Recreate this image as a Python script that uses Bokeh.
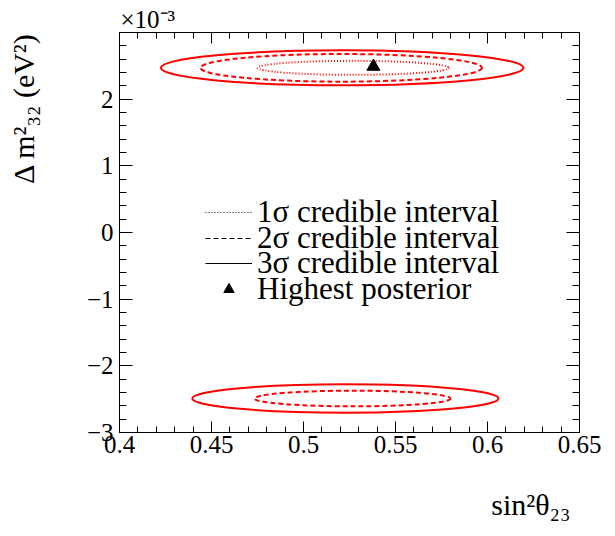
from bokeh.plotting import figure
from bokeh.models import Range1d, FixedTicker, LinearAxis, Title, Legend, LegendItem
from bokeh.embed import file_html
from bokeh.resources import INLINE

# ---------------- data (Δm²32 in units of 1e-3 eV²) ----------------
# upper island: 1σ, 2σ, 3σ credible contours
upper_level = ["1sigma", "2sigma", "3sigma"]
upper_x_center = [0.527, 0.5205, 0.521]
upper_y_center = [2.47, 2.47, 2.47]
upper_x_width = [0.104, 0.153, 0.197]
upper_y_height = [0.21, 0.415, 0.525]

# lower island: 2σ, 3σ credible contours
lower_level = ["2sigma", "3sigma"]
lower_x_center = [0.5267, 0.5228]
lower_y_center = [-2.49, -2.49]
lower_x_width = [0.1065, 0.1665]
lower_y_height = [0.235, 0.425]

# highest posterior point
best_x = [0.538]
best_y = [2.49]

x_ticks = [0.4, 0.45, 0.5, 0.55, 0.6, 0.65]
x_tick_labels = ["0.4", "0.45", "0.5", "0.55", "0.6", "0.65"]
y_ticks = [-3, -2, -1, 0, 1, 2, 3]
y_tick_labels = ["\u22123", "\u22122", "\u22121", "0", "1", "2", ""]

legend_labels = ["1\u03c3 credible interval", "2\u03c3 credible interval",
                 "3\u03c3 credible interval", "Highest posterior"]

x_title = "sin\u00b2\u03b8\u2082\u2083"
y_title = "\u0394 m\u00b2\u2083\u2082 (eV\u00b2)"
y_multiplier = "\u00d710\u207b\u00b3"

# ---------------- styles ----------------
FONT = "Liberation Serif"
X0, X1 = 0.4, 0.65
Y0, Y1 = -3.0, 3.0
W, H = 615, 536
FL, FR, FT, FB = 119, 579, 32, 432  # frame edges in canvas px

level_style = {
    "1sigma": dict(line_dash="1 2", line_width=2),
    "2sigma": dict(line_dash="5 3", line_width=2),
    "3sigma": dict(line_dash="solid", line_width=2),
}

p = figure(width=W, height=H, x_range=Range1d(X0, X1), y_range=Range1d(Y0, Y1),
           output_backend="svg", toolbar_location=None,
           min_border_left=FL, min_border_right=W - FR,
           min_border_top=FT, min_border_bottom=H - FB)
p.xgrid.visible = False
p.ygrid.visible = False
p.outline_line_color = "black"
p.outline_line_width = 1
p.background_fill_color = "white"
p.border_fill_color = "white"

x_minor = [round(X0 + 0.01 * i, 2) for i in range(26)]
y_minor = [round(Y0 + 0.2 * i, 1) for i in range(31)]


def style_axis(ax, ticks, minor, labels, tin, minin, show):
    ax.ticker = FixedTicker(ticks=ticks, minor_ticks=minor)
    ax.major_tick_in = tin
    ax.major_tick_out = 0
    ax.minor_tick_in = minin
    ax.minor_tick_out = 0
    ax.axis_line_color = "black"
    ax.major_tick_line_color = "black"
    ax.minor_tick_line_color = "black"
    if show:
        ax.major_label_overrides = dict(zip(ticks, labels))
        ax.major_label_text_font = FONT
        ax.major_label_text_font_size = "25px"
        ax.major_label_text_color = "black"
    else:
        ax.major_label_text_font_size = "0px"
        ax.major_label_text_alpha = 0
        ax.major_label_standoff = 0


def reserve_gap(ax, gap):
    # a blank, tiny axis label that only reserves room between tick labels and the title
    ax.axis_label = " "
    ax.axis_label_text_font_size = "2px"
    ax.axis_label_text_alpha = 0
    ax.axis_label_standoff = gap


style_axis(p.xaxis[0], x_ticks, x_minor, x_tick_labels, 11, 6, True)
p.xaxis[0].major_label_standoff = 3
reserve_gap(p.xaxis[0], 27)
style_axis(p.yaxis[0], y_ticks, y_minor, y_tick_labels, 13, 7, True)
p.yaxis[0].major_label_standoff = 6
reserve_gap(p.yaxis[0], 37)

top_ax = LinearAxis()
style_axis(top_ax, x_ticks, x_minor, x_tick_labels, 11, 6, False)
p.add_layout(top_ax, "above")
right_ax = LinearAxis()
style_axis(right_ax, y_ticks, y_minor, y_tick_labels, 13, 7, False)
p.add_layout(right_ax, "right")

# ---------------- contours ----------------
for i, lev in enumerate(upper_level):
    p.ellipse(x=[upper_x_center[i]], y=[upper_y_center[i]],
              width=[upper_x_width[i]], height=[upper_y_height[i]],
              fill_color=None, line_color="#ff0000", **level_style[lev])
for i, lev in enumerate(lower_level):
    p.ellipse(x=[lower_x_center[i]], y=[lower_y_center[i]],
              width=[lower_x_width[i]], height=[lower_y_height[i]],
              fill_color=None, line_color="#ff0000", **level_style[lev])

best = p.scatter(x=best_x, y=best_y, marker="triangle", size=13,
                 fill_color="black", line_color="black")

# ---------------- legend (one single-item legend per row, rows packed tightly) ----------------
nan = float("nan")
leg_renderers = []
for lev in ["1sigma", "2sigma", "3sigma"]:
    st = level_style[lev]
    r = p.line(x=[nan], y=[nan], line_color="black", line_dash=st["line_dash"], line_width=1)
    leg_renderers.append(r)
leg_renderers.append(best)

ROW_H = 34
row_centers = [213, 239, 264, 290]  # canvas px
for lab, r, c in zip(legend_labels, leg_renderers, row_centers):
    lg = Legend(items=[LegendItem(label=lab, renderers=[r])],
                location=(205 - FL, FB - c - ROW_H / 2), orientation="vertical",
                padding=0, margin=0, spacing=0,
                glyph_width=47, glyph_height=26, label_height=ROW_H, label_standoff=5,
                label_text_font=FONT, label_text_font_size="31px", label_text_color="black",
                border_line_color=None, background_fill_alpha=0)
    p.add_layout(lg)

# ---------------- titles ----------------
p.add_layout(Title(text=y_multiplier, align="left", offset=1, standoff=0,
                   text_font=FONT, text_font_size="25px", text_font_style="normal",
                   text_color="black"), "above")
p.add_layout(Title(text=x_title, align="right", offset=9, standoff=0, vertical_align="top",
                   text_font=FONT, text_font_size="30px", text_font_style="normal",
                   text_color="black"), "below")
p.add_layout(Title(text=y_title, align="right", offset=0, standoff=0, vertical_align="top",
                   text_font=FONT, text_font_size="30px", text_font_style="normal",
                   text_color="black"), "left")

open("out.html", "w").write(file_html(p, INLINE))
